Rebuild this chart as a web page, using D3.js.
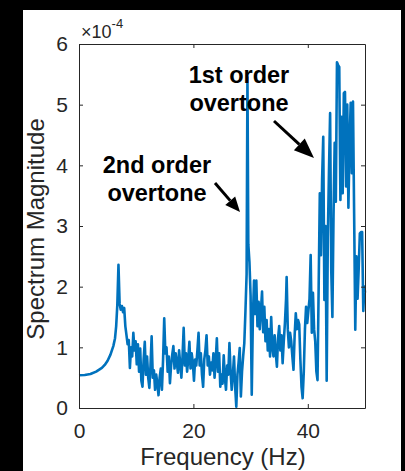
<!DOCTYPE html>
<html><head><meta charset="utf-8">
<script src="https://cdn.jsdelivr.net/npm/d3@7/dist/d3.min.js"></script>
<style>html,body{margin:0;padding:0;background:#000;} svg{display:block;}</style>
</head><body>
<svg id="chart" width="405" height="471"></svg>
<script>
// Frequency (Hz)
const freqHz = [
 0,1,2,3,4,4.5,5,5.5,6,6.3,6.5,6.7,6.9,
 7.1,7.3,7.5,7.7,7.9,8.1,8.3,8.5,8.7,8.9,9.1,9.3,9.5,9.7,9.9,
 10.1,10.3,10.5,10.7,10.9,11.1,11.3,11.5,11.7,11.9,12.1,12.3,12.5,12.7,12.9,
 13.1,13.3,13.5,13.7,13.9,14.1,14.3,14.5,14.7,14.9,15.1,15.3,15.5,15.7,15.9,
 16.1,16.3,16.5,16.7,16.9,17.1,17.3,17.5,17.7,17.9,18.1,18.3,18.5,18.7,18.9,
 19.1,19.3,19.5,19.7,19.9,20.1,20.3,20.5,20.7,20.9,21.1,21.3,21.5,21.7,21.9,
 22.1,22.3,22.5,22.7,22.9,23.1,23.3,23.5,23.7,23.9,24.1,24.3,24.5,24.7,24.9,
 25.1,25.3,25.5,25.7,25.9,26.1,26.3,26.5,26.7,26.9,27.1,27.3,27.5,27.7,27.9,
 28.1,28.3,28.5,28.7,28.9,29.1,29.3,29.45,29.6,29.8,
 30.0,30.2,30.4,30.6,30.8,31.0,31.2,31.4,31.6,31.8,32.0,32.2,32.4,32.6,32.8,
 33.0,33.2,33.4,33.6,33.8,34.0,34.2,34.4,34.6,34.8,35.0,35.2,35.4,35.6,35.8,
 36.0,36.2,36.3,36.5,36.7,36.9,37.1,37.3,37.5,37.7,37.9,38.1,38.3,38.5,38.7,38.9,
 39.1,39.3,39.5,39.7,39.9,40.1,40.3,40.5,40.7,40.9,41.1,41.3,41.5,41.7,41.9,
 42.1,42.3,42.5,42.7,42.9,43.1,43.3,43.5,43.7,43.9,44.1,44.3,44.5,44.7,44.9,
 45.1,45.3,45.5,45.7,45.9,46.1,46.3,46.5,46.7,46.9,47.1,47.3,47.5,47.7,47.9,
 48.1,48.3,48.5,48.7,48.9,49.1,49.3,49.5,49.7,49.9,50.0
];
// Spectrum magnitude (x 1e-4)
const magnitude = [
 0.54,0.545,0.56,0.6,0.66,0.71,0.78,0.88,1.02,1.15,1.35,1.7,2.36,
 1.72,1.62,1.68,1.58,1.65,1.35,1.2,1.05,1.12,0.66,1.0,0.85,1.24,0.95,1.1,
 0.72,1.05,0.6,0.98,0.45,0.35,0.8,1.09,0.55,0.85,0.5,0.33,0.7,1.18,0.5,
 0.62,0.3,0.55,0.4,0.21,0.5,0.65,0.3,0.8,1.48,0.9,1.0,0.6,0.85,0.41,
 0.7,0.88,1.02,0.65,0.9,0.75,0.58,0.95,0.72,0.5,0.85,1.32,0.7,0.9,0.6,
 0.8,1.09,0.65,0.9,0.75,0.45,0.8,0.7,0.95,1.24,0.7,0.9,0.55,0.35,0.8,
 0.95,1.2,0.7,0.85,0.55,0.75,0.62,0.9,0.5,0.78,1.15,0.6,0.9,0.35,0.55,
 0.4,0.87,0.5,0.3,0.7,0.55,1.07,0.6,0.3,0.55,0.85,0.35,0.02,0.55,0.75,
 0.99,0.19,0.6,0.85,1.07,1.6,2.2,5.45,2.7,2.4,
 1.85,0.22,1.5,2.1,1.55,2.1,1.35,1.75,1.3,1.6,1.92,1.25,1.67,1.1,1.45,
 0.95,1.3,0.85,1.5,1.0,0.85,1.2,0.9,0.68,1.15,1.35,0.95,1.2,0.74,1.1,
 1.4,1.8,2.16,1.3,1.0,1.24,1.1,0.85,0.63,1.2,1.56,1.3,1.45,1.38,0.8,0.35,
 0.16,0.6,1.3,1.67,1.4,1.6,1.8,2.52,1.24,1.9,1.3,1.1,0.6,0.46,2.0,
 3.54,2.52,3.76,4.47,1.78,3.0,0.45,2.8,3.9,4.86,2.27,1.5,3.2,4.37,3.4,
 5.7,5.65,5.62,3.43,4.8,3.54,5.19,5.21,3.65,5.0,3.3,4.37,5.03,3.87,5.05,
 3.2,1.29,2.5,1.8,2.3,2.88,2.9,2.9,1.6,2.0,1.9
];
const xTicks = [0, 20, 40];
const yTicks = [0, 1, 2, 3, 4, 5, 6];
const xLabel = "Frequency (Hz)";
const yLabel = "Spectrum Magnitude";
const annoFirst = ["1st order", "overtone"];
const annoSecond = ["2nd order", "overtone"];

const svg = d3.select("#chart");
const axisColor = "#262626";
const lineColor = "#0072BD";
const font = "'Liberation Sans', Arial, Helvetica, sans-serif";

// white figure area
svg.append("rect").attr("x", 23).attr("y", 10).attr("width", 378).attr("height", 461).attr("fill", "#fff");

const L = 79, R = 365, T = 44, B = 408;
const x = d3.scaleLinear().domain([0, 50]).range([L, R]);
const y = d3.scaleLinear().domain([0, 6]).range([B, T]);

const data = freqHz.map((f, i) => ({f, v: magnitude[i]}));

// line
svg.append("path").datum(data)
  .attr("fill", "none").attr("stroke", lineColor).attr("stroke-width", 2.6)
  .attr("stroke-linejoin", "round")
  .attr("d", d3.line().x(d => x(d.f)).y(d => y(d.v)));

// axes
function styleAxis(g) {
  g.selectAll("path.domain").attr("stroke", axisColor).attr("stroke-width", 1);
  g.selectAll(".tick line").attr("stroke", axisColor).attr("stroke-width", 1);
  g.selectAll(".tick text").attr("fill", axisColor).style("font-family", font).style("font-size", "21px");
}
const fmt = d3.format("d");
svg.append("g").attr("transform", `translate(0,${B})`)
  .call(d3.axisBottom(x).tickValues(xTicks).tickFormat(fmt).tickSizeInner(-4).tickSizeOuter(0).tickPadding(15))
  .call(styleAxis);
svg.append("g").attr("transform", `translate(0,${T})`)
  .call(d3.axisTop(x).tickValues(xTicks).tickSizeInner(-4).tickSizeOuter(0).tickFormat(""))
  .call(styleAxis);
svg.append("g").attr("transform", `translate(${L},0)`)
  .call(d3.axisLeft(y).tickValues(yTicks).tickFormat(fmt).tickSizeInner(-4).tickSizeOuter(0).tickPadding(11))
  .call(styleAxis);
svg.append("g").attr("transform", `translate(${R},0)`)
  .call(d3.axisRight(y).tickValues(yTicks).tickSizeInner(-4).tickSizeOuter(0).tickFormat(""))
  .call(styleAxis);

// exponent
const ex = svg.append("text").attr("x", L + 2).attr("y", 38)
  .attr("fill", axisColor).style("font-family", font).style("font-size", "18px");
ex.append("tspan").text("×10");
ex.append("tspan").attr("dy", -10).style("font-size", "13px").text("-4");

// axis labels
svg.append("text").attr("x", (L + R) / 2 + 1).attr("y", 465).attr("text-anchor", "middle")
  .attr("fill", axisColor).style("font-family", font).style("font-size", "24px").text(xLabel);
svg.append("text").attr("transform", `translate(44,${(T + B) / 2 + 3}) rotate(-90)`)
  .attr("text-anchor", "middle")
  .attr("fill", axisColor).style("font-family", font).style("font-size", "24px").text(yLabel);

// annotations
function anno(lines, cx, y0) {
  lines.forEach((t, i) => {
    svg.append("text").attr("x", cx).attr("y", y0 + i * 28).attr("text-anchor", "middle")
      .attr("fill", "#000").style("font-family", font).style("font-weight", "bold")
      .style("font-size", "23.5px").text(t);
  });
}
anno(annoFirst, 239, 83);
anno(annoSecond, 157, 173);

function arrow(x1, y1, x2, y2, hl, hw) {
  const a = Math.atan2(y2 - y1, x2 - x1);
  const bx = x2 - hl * Math.cos(a), by = y2 - hl * Math.sin(a);
  svg.append("line").attr("x1", x1).attr("y1", y1).attr("x2", bx).attr("y2", by)
    .attr("stroke", "#000").attr("stroke-width", 3);
  const px = -Math.sin(a) * hw / 2, py = Math.cos(a) * hw / 2;
  svg.append("path").attr("d", `M${x2},${y2}L${bx + px},${by + py}L${bx - px},${by - py}Z`).attr("fill", "#000");
}
arrow(274, 121, 314, 158, 20, 16);
arrow(215, 183, 240, 212, 15, 13);
</script>
</body></html>
